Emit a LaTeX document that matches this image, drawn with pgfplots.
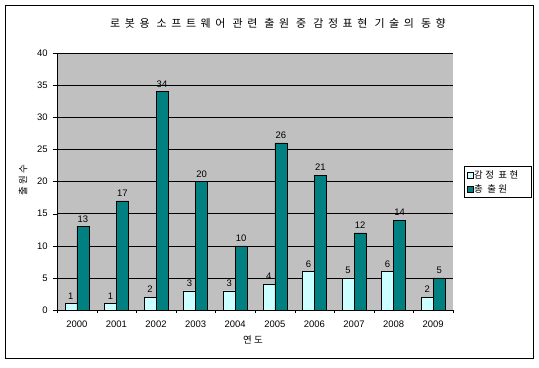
\documentclass[border=0pt]{standalone}
\usepackage{pgfplots}
\pgfplotsset{compat=1.18}
\usepackage{fontspec}
\setmainfont{Liberation Sans}
\newfontfamily\kr[LetterSpace=25]{Noto Sans CJK KR}
\newfontfamily\krt[LetterSpace=42]{Noto Sans CJK KR}
\definecolor{cyanbar}{HTML}{CCFFFF}
\definecolor{tealbar}{HTML}{008080}
\definecolor{plotgray}{HTML}{C0C0C0}
\begin{document}
\fontsize{9.5}{11}\selectfont
\begin{tikzpicture}[x=1bp,y=1bp]
\path (-57,-57) rectangle (482,310);
\draw[black, line width=0.8pt] (-52,-48) rectangle (476,305);
\begin{axis}[
  at={(0,0)}, anchor=south west,
  scale only axis, width=396bp, height=257bp,
  xmin=-0.5, xmax=9.5, ymin=0, ymax=40,
  axis lines*=left, axis line style={-,black},
  axis background/.style={fill=plotgray},
  ytick={0,5,...,40},
  xtick={0,...,9},
  xticklabels={2000,2001,2002,2003,2004,2005,2006,2007,2008,2009},
  minor xtick={-0.5,0.5,...,9.5},
  major x tick style={draw=none},
  minor x tick style={black},
  minor tick length=3bp,
  major tick length=4bp,
  tick align=outside,
  tick style={black},
  ymajorgrids, grid style={black, line width=0.5pt},
  /pgf/number format/assume math mode=true,
  ticklabel style={font=\fontsize{9.5}{11}\selectfont},
  yticklabel style={xshift=-2bp},
  xticklabel style={yshift=-4bp},
  ybar, bar width=12bp,
  nodes near coords,
  every node near coord/.append style={font=\fontsize{9.5}{11}\selectfont, black, yshift=1bp},
  clip=false,
]
\addplot[fill=cyanbar, draw=black, bar shift=-6bp] coordinates {
(0,1) (1,1) (2,2) (3,3) (4,3) (5,4) (6,6) (7,5) (8,6) (9,2)};
\addplot[fill=tealbar, draw=black, bar shift=6bp] coordinates {
(0,13) (1,17) (2,34) (3,20) (4,10) (5,26) (6,21) (7,12) (8,14) (9,5)};
\end{axis}
\node at (221,287) {\krt\fontsize{11}{13}\selectfont 로봇용 소프트웨어 관련 출원 중 감정표현 기술의 동향};
\node[rotate=90] at (-34,130) {\kr\fontsize{9.5}{11}\selectfont 출원수};
\node at (196,-30) {\kr\fontsize{9.5}{11}\selectfont 연도};
\draw[black, line width=0.6pt, fill=white] (407,113) rectangle (474,144);
\draw[black, fill=cyanbar] (410,132) rectangle (416,138);
\node[anchor=west, inner sep=0pt] at (417,135) {\kr\fontsize{9.5}{11}\selectfont 감정 표현};
\draw[black, fill=tealbar] (410,118) rectangle (416,124);
\node[anchor=west, inner sep=0pt] at (417,121) {\kr\fontsize{9.5}{11}\selectfont 총 출원};
\end{tikzpicture}
\end{document}
